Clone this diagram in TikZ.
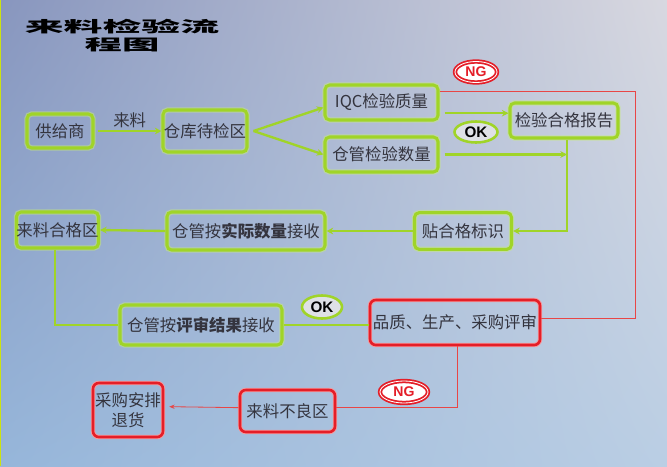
\documentclass[tikz,border=0pt]{standalone}
\usepackage{fontspec}
\newfontfamily\cjk{Noto Sans CJK SC}
\newfontfamily\lat{Liberation Sans}
\usetikzlibrary{arrows.meta,positioning,shapes.geometric,shadings}
\definecolor{bgtl}{RGB}{136,150,190}
\definecolor{bgtr}{RGB}{216,216,224}
\definecolor{bgbl}{RGB}{150,182,218}
\definecolor{bgbr}{RGB}{186,206,228}
\definecolor{lime}{RGB}{160,212,40}
\definecolor{limeglow}{RGB}{200,236,120}
\definecolor{ngred}{RGB}{228,30,40}
\definecolor{redline}{RGB}{232,70,70}
\definecolor{txt}{RGB}{52,52,62}
\definecolor{ovalfill}{RGB}{222,224,230}

\begin{document}
\begin{tikzpicture}[x=0.03cm,y=-0.03cm,
    boxtext/.style={font=\cjk\fontsize{14}{17}\selectfont,text=txt,align=center,inner sep=0pt},
    gbox/.style={boxtext,draw=lime,line width=2.6pt,rounded corners=4pt,
        preaction={draw=limeglow,line width=4.6pt,opacity=0.5}},
    rbox/.style={boxtext,draw=ngred,line width=2.2pt,rounded corners=5pt,
        preaction={draw=ngred!45,line width=3.8pt}},
    garrow/.style={draw=lime,line width=2pt,-{Stealth[length=2mm,width=2mm]}},
    gline/.style={draw=lime,line width=2pt},
    rline/.style={draw=redline,line width=0.7pt},
    rarrow/.style={rline,-{Stealth[length=1.6mm,width=1.3mm]}},
    okoval/.style={ellipse,draw=lime,line width=2.2pt,fill=ovalfill,inner sep=0pt,
        font=\lat\bfseries\fontsize{13}{13}\selectfont,text=black},
    ngoval/.style={ellipse,draw=ngred,line width=1.5pt,double=white,double distance=0.7pt,
        fill=white,inner sep=0pt,font=\lat\bfseries\fontsize{12}{12}\selectfont,text=ngred}
]

% Background
\useasboundingbox (0,0) rectangle (667,466);
\shade[upper left=bgtl,upper right=bgtr,lower left=bgbl,lower right=bgbr] (0,0) rectangle (667,466);
\draw[yellow!80!green,line width=1.2pt] (0.6,0) -- (0.6,466);

% Title
\node[font=\cjk\bfseries\fontsize{13}{13}\selectfont] (title1) at (122,27) {\scalebox{2.55}[1]{来料检验流}};
\node[font=\cjk\bfseries\fontsize{13}{13}\selectfont] (title2) at (122,45) {\scalebox{2.45}[1]{程图}};

% Upper flow
\node[gbox,minimum width=1.98cm,minimum height=1.02cm] (supplier) at (60,131) {供给商};
\node[gbox,minimum width=2.52cm,minimum height=1.26cm] (waitarea) at (205,131) {仓库待检区};
\node[gbox,minimum width=3.39cm,minimum height=1.05cm] (iqc) at (381.5,102.5) {IQC检验质量};
\node[gbox,minimum width=3.39cm,minimum height=1.05cm] (count) at (381.5,154.5) {仓管检验数量};
\node[gbox,minimum width=3.24cm,minimum height=1.05cm] (report) at (564,120.5) {检验合格报告};

% Middle row
\node[gbox,minimum width=2.91cm,minimum height=1.1cm] (tagok) at (463,231) {贴合格标识};
\node[gbox,minimum width=4.74cm,minimum height=1.14cm] (recvqty) at (246,231) {仓管按{\bfseries 实际数量}接收};
\node[gbox,minimum width=2.37cm,minimum height=1.08cm] (okarea) at (57.5,230) {来料合格区};

% Review row
\node[gbox,minimum width=4.86cm,minimum height=1.2cm] (recvrev) at (201,325) {仓管按{\bfseries 评审结果}接收};
\node[rbox,minimum width=5.1cm,minimum height=1.35cm] (review) at (455,322.5) {品质、生产、采购评审};

% Reject row
\node[rbox,minimum width=2.85cm,minimum height=1.26cm] (badarea) at (287.5,411) {来料不良区};
\node[rbox,minimum width=2.1cm,minimum height=1.62cm] (returngoods) at (128,410) {采购安排\\退货};

% OK / NG marks
\node[ngoval,minimum width=1.26cm,minimum height=0.63cm] (ngtop) at (476,72) {NG};
\node[okoval,minimum width=1.29cm,minimum height=0.63cm] (oktop) at (476,132) {OK};
\node[okoval,minimum width=1.2cm,minimum height=0.69cm] (okmid) at (322,307) {OK};
\node[ngoval,minimum width=1.44cm,minimum height=0.66cm] (ngbot) at (404,392) {NG};

% Connectors
\draw[garrow] ([xshift=0.1cm]supplier.east) -- node[above=2pt,boxtext] (inlabel) {来料} (waitarea.west);
\coordinate (fork) at ([xshift=0.15cm]waitarea.east);
\draw[garrow] (fork) -- ([yshift=-0.15cm]iqc.west);
\draw[garrow] (fork) -- (count.west);
\draw[garrow] ([xshift=0.15cm,yshift=-0.32cm]iqc.east) -- ([yshift=-0.32cm]iqc.east -| report.west);
\draw[garrow] ([xshift=0.15cm]count.east) -- ([xshift=0.09cm]count.east -| report.south);
\draw[garrow] ([xshift=0.09cm]report.south) |- (tagok.east);
\draw[garrow] (tagok.west) -- (recvqty.east);
\draw[garrow] (recvqty.west) -- (okarea.east);
\draw[gline] ([xshift=-0.08cm]okarea.south) |- (recvrev.west);
\draw[gline] (recvrev.east -| review.west) -- (recvrev.east);

% NG path
\coordinate (ngright) at (635,92);
\draw[rline] ([yshift=0.32cm]iqc.east) -- ([yshift=0.32cm]iqc.east -| ngright) |- ([yshift=0.13cm]review.east);
\draw[rline] ([xshift=0.06cm]review.south) |- ([yshift=0.1cm]badarea.east);
\draw[rarrow] ([yshift=0.1cm]badarea.west) -- ([xshift=0.15cm,yshift=0.1cm]returngoods.east);

\end{tikzpicture}
\end{document}
